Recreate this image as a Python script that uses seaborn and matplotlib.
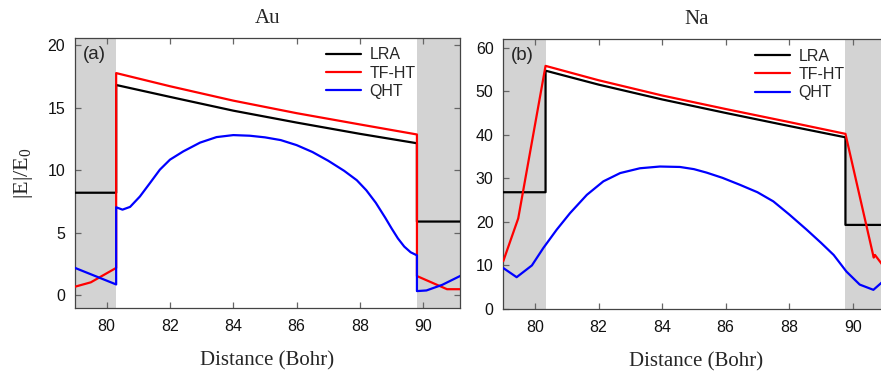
import numpy as np
import pandas as pd
import seaborn as sns
import matplotlib
matplotlib.use("Agg")
import matplotlib.pyplot as plt

# ---------------- data ----------------
au_lra_x = [79.0, 80.3, 80.3, 82.0, 84.0, 86.0, 88.0, 89.8, 89.8, 91.2]
au_lra_y = [8.2, 8.2, 16.8, 15.85, 14.75, 13.8, 12.9, 12.15, 5.9, 5.9]

au_tf_x = [79.0, 79.5, 80.3, 80.3, 82.0, 84.0, 86.0, 88.0, 89.8, 89.8, 90.75, 91.2]
au_tf_y = [0.7, 1.05, 2.2, 17.75, 16.7, 15.55, 14.55, 13.65, 12.85, 1.55, 0.5, 0.5]

au_qht_x = [79.0, 80.3, 80.3, 80.5, 80.74, 81.05, 81.37, 81.68, 82.0, 82.42,
            82.95, 83.47, 84.0, 84.52, 85.0, 85.5, 86.0, 86.5, 87.0, 87.5,
            87.9, 88.2, 88.5, 88.8, 89.0, 89.2, 89.4, 89.6, 89.8, 89.8, 90.1,
            90.6, 91.2]
au_qht_y = [2.2, 0.88, 7.04, 6.85, 7.07, 7.9, 8.98, 10.04, 10.84, 11.5,
            12.2, 12.64, 12.8, 12.75, 12.62, 12.4, 12.0, 11.45, 10.75, 9.95,
            9.2, 8.4, 7.4, 6.2, 5.35, 4.55, 3.9, 3.45, 3.2, 0.35, 0.4,
            0.85, 1.6]

na_lra_x = [79.0, 80.33, 80.33, 82.0, 84.0, 86.0, 88.0, 89.77, 89.77, 91.2]
na_lra_y = [26.8, 26.8, 54.7, 51.5, 48.1, 45.0, 42.0, 39.4, 19.3, 19.3]

na_tf_x = [79.0, 79.47, 80.33, 82.0, 84.0, 86.0, 88.0, 89.77, 90.66, 90.7, 91.0]
na_tf_y = [11.0, 20.8, 55.8, 52.5, 49.0, 45.9, 42.9, 40.2, 11.8, 12.4, 9.5]

na_qht_x = [79.0, 79.42, 79.9, 80.26, 80.68, 81.1, 81.63, 82.15, 82.68, 83.3,
            83.93, 84.56, 85.0, 85.4, 85.9, 86.45, 87.0, 87.5, 88.0, 88.55,
            89.0, 89.4, 89.8, 90.22, 90.65, 90.9, 91.2]
na_qht_y = [9.4, 7.3, 10.0, 14.0, 18.2, 22.0, 26.2, 29.3, 31.2, 32.3,
            32.7, 32.6, 32.1, 31.3, 30.1, 28.5, 26.8, 24.7, 21.7, 18.2,
            15.2, 12.4, 8.6, 5.6, 4.4, 6.0, 8.0]

series_names = ["LRA", "TF-HT", "QHT"]
series_colors = ["#000000", "#ff0000", "#0000ff"]
titles = ["Au", "Na"]
panel_tags = ["(a)", "(b)"]
x_ticks = [80, 82, 84, 86, 88, 90]
au_y_ticks = [0, 5, 10, 15, 20]
na_y_ticks = [0, 10, 20, 30, 40, 50, 60]
au_shade = [(79.0, 80.3), (89.8, 91.2)]
na_shade = [(79.0, 80.33), (89.77, 91.2)]

# ---------------- style ----------------
sns.set_theme(style="ticks")
plt.rcParams["font.family"] = ["Liberation Sans", "DejaVu Sans"]
plt.rcParams["mathtext.default"] = "regular"
serif = ["Liberation Serif", "DejaVu Serif"]
spine_col = "#444444"

fig = plt.figure(figsize=(8.81, 3.71), dpi=100)
W, H = 881.0, 371.0
ax_a = fig.add_axes([75 / W, (H - 308) / H, (460 - 75) / W, (308 - 38) / H])
ax_b = fig.add_axes([503.3 / W, (H - 309) / H, 386.3 / W, (309 - 39.3) / H])

panels = [
    (ax_a, [(au_lra_x, au_lra_y), (au_tf_x, au_tf_y), (au_qht_x, au_qht_y)],
     au_shade, (-1.0, 20.55), au_y_ticks),
    (ax_b, [(na_lra_x, na_lra_y), (na_tf_x, na_tf_y), (na_qht_x, na_qht_y)],
     na_shade, (0, 61.9), na_y_ticks),
]

for i, (ax, series, shade, ylim, yticks) in enumerate(panels):
    for (s0, s1) in shade:
        ax.axvspan(s0, s1, color="#d3d3d3", lw=0, zorder=0)
    for (xs, ys), name, col in zip(series, series_names, series_colors):
        df = pd.DataFrame({"x": xs, "y": ys})
        sns.lineplot(data=df, x="x", y="y", sort=False, estimator=None,
                     color=col, lw=1.6, label=name, ax=ax, zorder=3)
    ax.set_xlim(79.0, 91.16)
    ax.set_ylim(*ylim)
    ax.set_xticks(x_ticks)
    ax.set_yticks(yticks)
    ax.tick_params(direction="in", length=4, width=0.9, color="#666666",
                   top=True, right=True, labelsize=11.5, pad=8,
                   labelcolor="#111111")
    ax.tick_params(axis="y", pad=7)
    for sp in ax.spines.values():
        sp.set_color(spine_col)
        sp.set_linewidth(0.9)
        sp.set_visible(True)
    ax.set_xlabel("Distance (Bohr)", fontsize=15, family=serif, labelpad=12)
    ax.set_ylabel("")
    ax.set_title(titles[i], fontsize=15, family=serif, pad=11)
    ax.text(0.02, 0.94, panel_tags[i], transform=ax.transAxes, fontsize=13.5,
            ha="left", va="center", zorder=5)
    ax.legend(loc="upper left", bbox_to_anchor=(0.651, 0.965), frameon=False,
              fontsize=11.5, handlelength=2.2, handletextpad=0.55,
              labelspacing=0.2, borderpad=0, borderaxespad=0)
    ax.grid(False)

ax_a.set_ylabel("|E|/E$_0$", fontsize=16, family=serif, labelpad=9)

fig.savefig("out.png", dpi=100)
